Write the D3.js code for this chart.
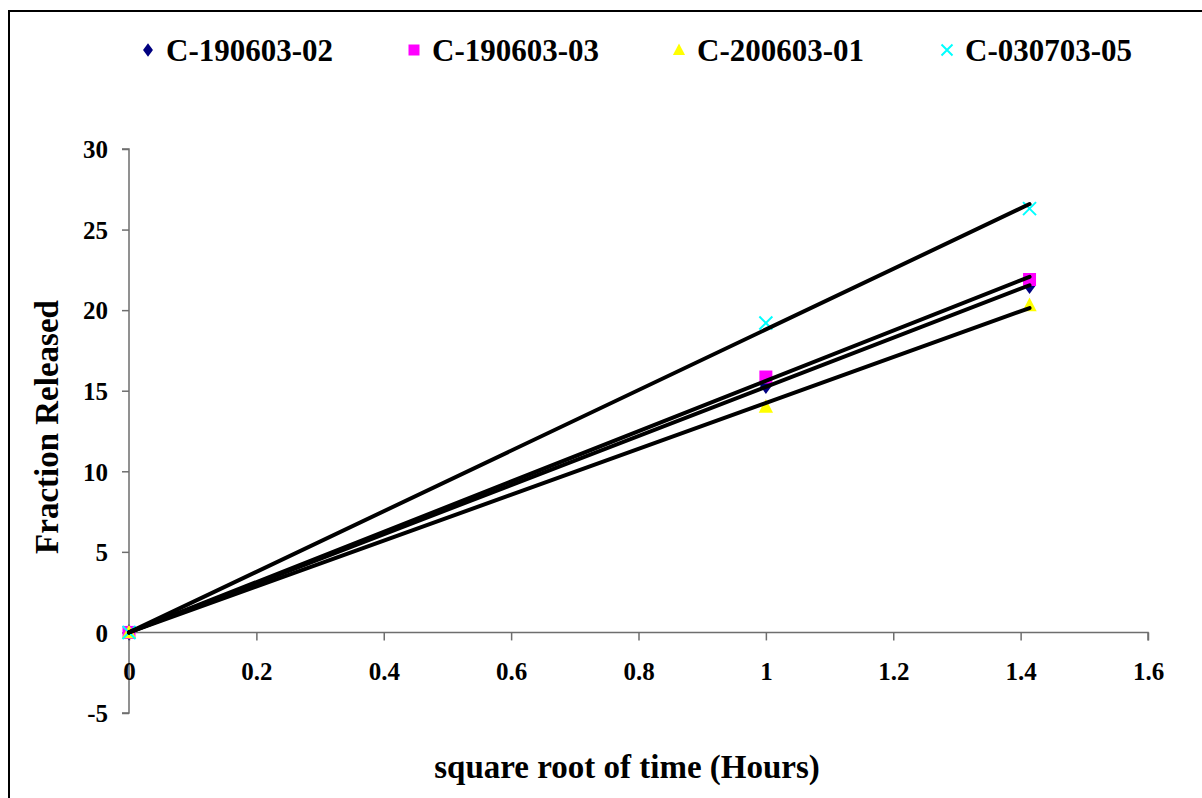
<!DOCTYPE html>
<html><head><meta charset="utf-8">
<script src="https://cdn.jsdelivr.net/npm/d3@7"></script>
<style>
html,body{margin:0;padding:0;background:#fff;}
svg{display:block;}
text{font-family:"Liberation Serif","Times New Roman",serif;font-weight:bold;fill:#000;}
</style></head>
<body>
<svg id="chart" width="1202" height="798"></svg>
<script>
const seriesNames = ["C-190603-02", "C-190603-03", "C-200603-01", "C-030703-05"];
const xValues = [0, 1, 1.414];
const s1 = [0, 15.3, 21.5];
const s2 = [0, 15.85, 21.9];
const s3 = [0, 14.0, 20.3];
const s4 = [0, 19.2, 26.3];
const seriesValues = [s1, s2, s3, s4];
const seriesColors = ["#000080", "#FF00FF", "#FFFF00", "#00FFFF"];
const seriesSymbols = ["diamond", "square", "triangle", "cross"];
const xTicks = [0, 0.2, 0.4, 0.6, 0.8, 1, 1.2, 1.4, 1.6];
const yTicks = [-5, 0, 5, 10, 15, 20, 25, 30];
const xTitle = "square root of time (Hours)";
const yTitle = "Fraction Released";

const svg = d3.select("#chart");
// outer border
svg.append("rect").attr("x", 9).attr("y", 11).attr("width", 1300).attr("height", 900)
  .attr("fill", "none").attr("stroke", "#000").attr("stroke-width", 2);

const x = d3.scaleLinear().domain([0, 1.6]).range([129, 1148]);
const y = d3.scaleLinear().domain([-5, 30]).range([713, 149]);

const axisColor = "#6e6e6e";
const yAxis = svg.append("g").attr("transform", `translate(${x(0)},0)`)
  .call(d3.axisLeft(y).tickValues(yTicks).tickSize(7).tickPadding(14).tickFormat(d => String(d)));
const xAxis = svg.append("g").attr("transform", `translate(0,${y(0)})`)
  .call(d3.axisBottom(x).tickValues(xTicks).tickSize(8).tickPadding(22).tickFormat(d => String(d)));
[yAxis, xAxis].forEach(g => {
  g.select(".domain").attr("stroke", axisColor).attr("stroke-width", 1.5);
  g.selectAll(".tick line").attr("stroke", axisColor).attr("stroke-width", 1.5);
  g.selectAll(".tick text").style("font-size", "25px").attr("fill", "#000")
    .style("font-family", '"Liberation Serif","Times New Roman",serif').style("font-weight", "bold");
});
yAxis.select(".domain").attr("d", `M-7,${y(-5)}H0V${y(30)}H-7`);
xAxis.select(".domain").attr("d", `M${x(0)},0H${x(1.6)}V8`);
xAxis.selectAll(".tick text").attr("dy", "0.71em");
yAxis.selectAll(".tick text").attr("dy", "0.35em");

function symbolPath(type, size) {
  const s = size;
  if (type === "diamond") return `M0,${-s*0.62}L${s*0.45},0L0,${s*0.62}L${-s*0.45},0Z`;
  if (type === "square") return `M${-s/2},${-s/2}H${s/2}V${s/2}H${-s/2}Z`;
  if (type === "triangle") return `M0,${-s*0.6}L${s*0.55},${s*0.45}L${-s*0.55},${s*0.45}Z`;
  return `M${-s/2},${-s/2}L${s/2},${s/2}M${s/2},${-s/2}L${-s/2},${s/2}`;
}
function drawSymbol(g, type, color, cx, cy, size) {
  const p = g.append("path").attr("d", symbolPath(type, size)).attr("transform", `translate(${cx},${cy})`);
  if (type === "cross") p.attr("fill", "none").attr("stroke", color).attr("stroke-width", 2);
  else p.attr("fill", color);
}

const plot = svg.append("g");
seriesValues.forEach((vals, i) => {
  vals.forEach((v, j) => drawSymbol(plot, seriesSymbols[i], seriesColors[i], x(xValues[j]), y(v), 13));
});
// linear trendlines through origin (least squares)
seriesValues.forEach(vals => {
  const sxy = d3.sum(vals, (v, j) => v * xValues[j]);
  const sxx = d3.sum(xValues, v => v * v);
  const slope = sxy / sxx;
  const xMax = d3.max(xValues);
  plot.append("line").attr("x1", x(0)).attr("y1", y(0)).attr("x2", x(xMax)).attr("y2", y(slope * xMax))
    .attr("stroke", "#000").attr("stroke-width", 4).attr("stroke-linecap", "round");
});

// legend
const legendX = [148, 414, 679, 947];
const legend = svg.append("g");
seriesNames.forEach((n, i) => {
  drawSymbol(legend, seriesSymbols[i], seriesColors[i], legendX[i], 50, 11);
  legend.append("text").attr("x", legendX[i] + 18).attr("y", 50).attr("dy", "0.35em")
    .style("font-size", "31px").text(n);
});

// titles
svg.append("text").attr("x", 627).attr("y", 766).attr("text-anchor", "middle").attr("dy", "0.35em")
  .style("font-size", "33px").text(xTitle);
svg.append("text").attr("transform", `translate(46,427) rotate(-90)`).attr("text-anchor", "middle").attr("dy", "0.35em")
  .style("font-size", "33px").text(yTitle);
</script>
</body></html>
